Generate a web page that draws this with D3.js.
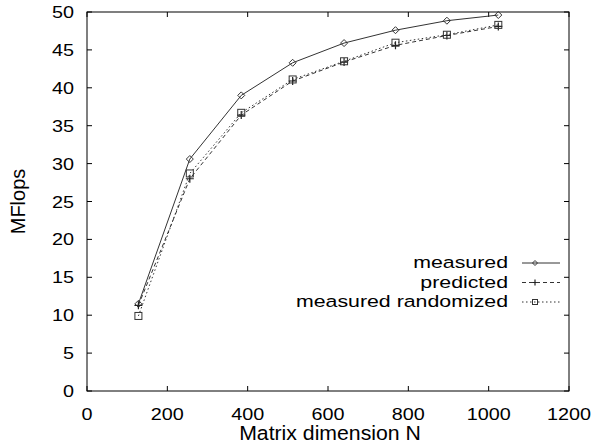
<!DOCTYPE html>
<html>
<head>
<meta charset="utf-8">
<script src="https://cdn.jsdelivr.net/npm/d3@7"></script>
<style>
  body { margin: 0; background: #fff; }
  text { font-family: "Liberation Sans", Arial, sans-serif; fill: #000; }
</style>
</head>
<body>
<div id="chart"></div>
<script>
const sizes = [128, 256, 384, 512, 640, 768, 896, 1024];
const measured = [11.5, 30.6, 39.0, 43.3, 45.9, 47.6, 48.85, 49.6];
const predicted = [11.3, 28.0, 36.4, 40.9, 43.4, 45.6, 46.9, 48.1];
const randomized = [9.9, 28.7, 36.7, 41.1, 43.5, 45.95, 47.0, 48.3];
const xTicks = [0, 200, 400, 600, 800, 1000, 1200];
const yTicks = [0, 5, 10, 15, 20, 25, 30, 35, 40, 45, 50];

const margin = {top: 12, right: 25, bottom: 56, left: 87};
const width = 594 - margin.left - margin.right;
const height = 447 - margin.top - margin.bottom;

const svg = d3.select("#chart")
    .append("svg")
    .attr("width", 594)
    .attr("height", 447)
  .append("g")
    .attr("transform", `translate(${margin.left},${margin.top})`);

const x = d3.scaleLinear().domain([0, 1200]).range([0, width]);
const y = d3.scaleLinear().domain([0, 50]).range([height, 0]);

// the original postscript fonts are a bit wider than Liberation Sans
function stretched(sel, sx) {
  return sel.attr("transform", function(d) {
    const px = +this.getAttribute("data-x"), py = +this.getAttribute("data-y");
    return `translate(${px},${py}) scale(${sx},1)`;
  });
}

// frame
svg.append("rect")
    .attr("width", width).attr("height", height)
    .attr("fill", "none").attr("stroke", "#000").attr("stroke-width", 1);

const tickLen = 5;
// inside ticks on all four sides
svg.selectAll(".xt").data(xTicks).enter().append("path")
    .attr("d", d => `M${x(d)},${height}v${-tickLen}M${x(d)},0v${tickLen}`)
    .attr("stroke", "#000");
svg.selectAll(".yt").data(yTicks).enter().append("path")
    .attr("d", d => `M0,${y(d)}h${tickLen}M${width},${y(d)}h${-tickLen}`)
    .attr("stroke", "#000");

svg.selectAll(".xl").data(xTicks).enter().append("text")
    .attr("data-x", d => x(d)).attr("data-y", height + 29)
    .attr("text-anchor", "middle").attr("font-size", 16.5)
    .text(d => d)
    .call(stretched, 1.2);
svg.selectAll(".yl").data(yTicks).enter().append("text")
    .attr("data-x", -13).attr("data-y", d => y(d) + 6)
    .attr("text-anchor", "end").attr("font-size", 16.5)
    .text(d => d)
    .call(stretched, 1.2);

svg.append("text")
    .attr("data-x", width / 2 + 2).attr("data-y", height + 49)
    .attr("text-anchor", "middle").attr("font-size", 19.5)
    .text("Matrix dimension N")
    .call(stretched, 1.09);
svg.append("text")
    .attr("transform", `translate(-62,${height / 2}) rotate(-90)`)
    .attr("text-anchor", "middle").attr("font-size", 20)
    .text("MFlops");

const series = [
  {name: "measured", values: measured, dash: null, marker: "diamond"},
  {name: "predicted", values: predicted, dash: "4,3", marker: "plus"},
  {name: "measured randomized", values: randomized, dash: "1.5,2.5", marker: "square"}
];

const line = d3.line().x((d, i) => x(sizes[i])).y(d => y(d));

function marker(g, type, cx, cy, r) {
  if (type === "diamond") {
    g.append("path").attr("d", `M${cx},${cy - r}L${cx + r},${cy}L${cx},${cy + r}L${cx - r},${cy}Z`)
      .attr("fill", "none").attr("stroke", "#333").attr("stroke-width", 1);
  } else if (type === "plus") {
    g.append("path").attr("d", `M${cx - r - 0.5},${cy}h${2 * r + 1}M${cx},${cy - r - 0.5}v${2 * r + 1}`)
      .attr("stroke", "#222").attr("stroke-width", 1.2);
  } else {
    g.append("rect").attr("x", cx - r).attr("y", cy - r).attr("width", 2 * r).attr("height", 2 * r)
      .attr("fill", "none").attr("stroke", "#333").attr("stroke-width", 1);
  }
}

series.forEach((s, k) => {
  svg.append("path")
      .datum(s.values)
      .attr("d", line)
      .attr("fill", "none")
      .attr("stroke", "#333")
      .attr("stroke-width", 1)
      .attr("stroke-dasharray", s.dash);
  const g = svg.append("g");
  s.values.forEach((v, i) => marker(g, s.marker, x(sizes[i]), y(v), 3.5));

  // legend
  const ly = 251 + k * 19.5;
  svg.append("text")
      .attr("data-x", 421).attr("data-y", ly + 5)
      .attr("text-anchor", "end").attr("font-size", 17.2)
      .text(s.name)
      .call(stretched, 1.24);
  svg.append("line")
      .attr("x1", 435).attr("x2", 473).attr("y1", ly).attr("y2", ly)
      .attr("stroke", "#333").attr("stroke-width", 1)
      .attr("stroke-dasharray", s.dash);
  marker(g, s.marker, 448, ly, 2.5);
});
</script>
</body>
</html>
